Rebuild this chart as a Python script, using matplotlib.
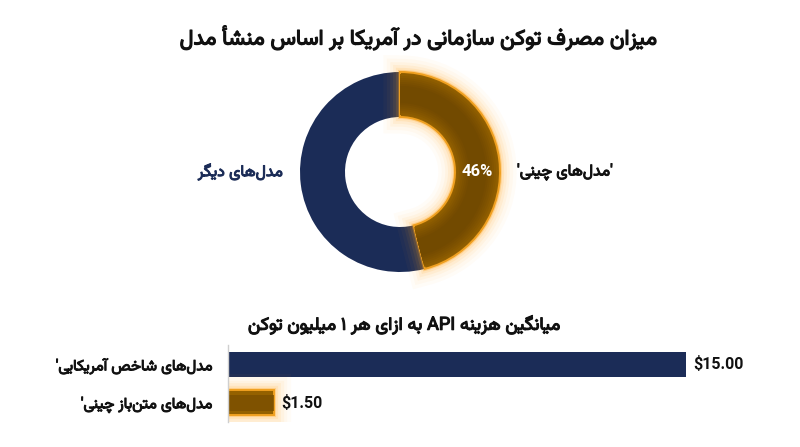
import re
import matplotlib
matplotlib.use("Agg")
import matplotlib.pyplot as plt
import matplotlib.patheffects as pe

# ==========================
# data
# ==========================
chart_title = "میزان مصرف توکن سازمانی در آمریکا بر اساس منشأ مدل"
share_labels = ["'مدل‌های چینی'", "مدل‌های دیگر"]
share_values = [46, 54]

cost_title = "میانگین هزینه API به ازای هر ۱ میلیون توکن"
cost_labels = ["مدل‌های شاخص آمریکایی'", "مدل‌های متن‌باز چینی'"]
cost_values = [15.00, 1.50]

NAVY = "#1b2c57"
AMBER = "#946100"
AMBER_EDGE = "#f0a020"
GLOW = "#ffa31a"
FA_FONT = "Vazirmatn"
NUM_FONT = "Roboto"

# ==========================
# persian shaping (matplotlib has no complex text layout)
# ==========================
# (joining type, isolated form) ; final/initial/medial follow at +1/+2/+3
FORMS = {
    "ا": ("R", 0xFE8D), "آ": ("R", 0xFE81), "أ": ("R", 0xFE83),
    "ب": ("D", 0xFE8F), "ت": ("D", 0xFE95), "خ": ("D", 0xFEA5),
    "د": ("R", 0xFEA9), "ر": ("R", 0xFEAD), "ز": ("R", 0xFEAF),
    "س": ("D", 0xFEB1), "ش": ("D", 0xFEB5), "ص": ("D", 0xFEB9),
    "ف": ("D", 0xFED1), "ل": ("D", 0xFEDD), "م": ("D", 0xFEE1),
    "ن": ("D", 0xFEE5), "ه": ("D", 0xFEE9), "و": ("R", 0xFEED),
    "چ": ("D", 0xFB7A), "ک": ("D", 0xFB8E), "گ": ("D", 0xFB92),
    "ی": ("D", 0xFBFC),
}


def shape(s):
    out = []
    for i, ch in enumerate(s):
        if ch not in FORMS:
            out.append(ch)
            continue
        kind, base = FORMS[ch]
        prev = s[i - 1] if i > 0 else ""
        nxt = s[i + 1] if i + 1 < len(s) else ""
        join_prev = prev in FORMS and FORMS[prev][0] == "D"
        join_next = kind == "D" and nxt in FORMS
        if join_prev and join_next:
            off = 3
        elif join_prev:
            off = 1
        elif join_next:
            off = 2
        else:
            off = 0
        out.append(chr(base + off))
    return "".join(c for c in out if c != "\u200c")


def fa(s):
    # shape, then lay the runs out right to left, latin runs kept as they are
    runs = re.findall(r"[A-Za-z0-9]+|[^A-Za-z0-9]+", shape(s))
    return "".join(r if re.match(r"[A-Za-z0-9]", r) else r[::-1] for r in reversed(runs))


def bold(color, w=0.7):
    return [pe.withStroke(linewidth=w, foreground=color)]


glow = [pe.Stroke(linewidth=lw, foreground=GLOW, alpha=a)
        for lw, a in [(24, 0.03), (19, 0.04), (14, 0.06), (10, 0.08), (6, 0.12), (3, 0.3)]] + [pe.Normal()]

fig = plt.figure(figsize=(8, 4.47), dpi=100)

fig.text(0.522, 0.915, fa(chart_title), ha="center", va="center", fontsize=15.5,
         family=FA_FONT, color="#111111", path_effects=bold("#111111", 0.9))

# ==========================
# donut
# ==========================
ax_pie = fig.add_axes([290 / 800, (447 - 282) / 447, 220 / 800, 220 / 447])
wedges, _ = ax_pie.pie(share_values, colors=[AMBER, NAVY], startangle=90, counterclock=False,
                       radius=1.0, wedgeprops=dict(width=0.45, linewidth=0))
wedges[0].set_edgecolor(AMBER_EDGE)
wedges[0].set_linewidth(1.4)
wedges[0].set_path_effects(glow)
wedges[0].set_zorder(3)
wedges[1].set_zorder(2)

# darker core of the amber ring, soft steps
core = ["#8e5d00", "#885900", "#835500", "#7e5200", "#7a4f00", "#764c00", "#724a00"]
for k, c in enumerate(core):
    d = 0.02 * (k + 1)
    inner, _ = ax_pie.pie(share_values, colors=[c, "none"], startangle=90, counterclock=False,
                          radius=1.0 - d, wedgeprops=dict(width=0.45 - 2 * d, linewidth=0))
    for w in inner:
        w.set_zorder(4)
ax_pie.set_xlim(-1.1, 1.1)
ax_pie.set_ylim(-1.1, 1.1)
ax_pie.set_aspect("equal")
ax_pie.axis("off")

ax_pie.text(0.775, 0.0, f"{share_values[0]}%", ha="center", va="center", fontsize=12,
            family=NUM_FONT, fontweight="bold", color="white", zorder=6)
ax_pie.text(1.17, 0.0, fa(share_labels[0]), ha="left", va="center", fontsize=11.5,
            family=FA_FONT, color="#111111", path_effects=bold("#111111"))
ax_pie.text(-1.17, 0.0, fa(share_labels[1]), ha="right", va="center", fontsize=11.5,
            family=FA_FONT, color=NAVY, path_effects=bold(NAVY))

# ==========================
# bars
# ==========================
fig.text(0.506, 0.273, fa(cost_title), ha="center", va="center", fontsize=13,
         family=FA_FONT, color="#111111", path_effects=bold("#111111", 0.8))

ax_bar = fig.add_axes([228 / 800, 25 / 447, 532 / 800, 77 / 447])
ypos = list(range(len(cost_values)))
bars = ax_bar.barh(ypos, cost_values, height=0.65, color=[NAVY, AMBER], linewidth=0)
bars[1].set_edgecolor(AMBER_EDGE)
bars[1].set_linewidth(1.4)
bars[1].set_path_effects(glow)
# darker middle of the amber bar
ax_bar.barh(ypos[1], cost_values[1], height=0.42, color="#7a4f00", linewidth=0, alpha=0.8)
ax_bar.set_xlim(0, 17.42)
ax_bar.set_ylim(len(cost_values) - 0.5, -0.5)

for y, v in zip(ypos, cost_values):
    ax_bar.annotate(f"${v:.2f}", (v, y), xytext=(7, 0), textcoords="offset pixels",
                    ha="left", va="center", fontsize=11.5, family=NUM_FONT,
                    fontweight="bold", color="#111111")

ax_bar.set_yticks(ypos)
ax_bar.set_yticklabels([fa(t) for t in cost_labels], family=FA_FONT, fontsize=11,
                       color="#111111")
for t in ax_bar.get_yticklabels():
    t.set_path_effects(bold("#111111"))
ax_bar.tick_params(axis="y", length=0, pad=11)
ax_bar.set_xticks([])
for side in ["top", "right", "bottom"]:
    ax_bar.spines[side].set_visible(False)
ax_bar.spines["left"].set_color("#cfcfcf")
ax_bar.spines["left"].set_linewidth(1)

fig.savefig("out.png", dpi=100)
